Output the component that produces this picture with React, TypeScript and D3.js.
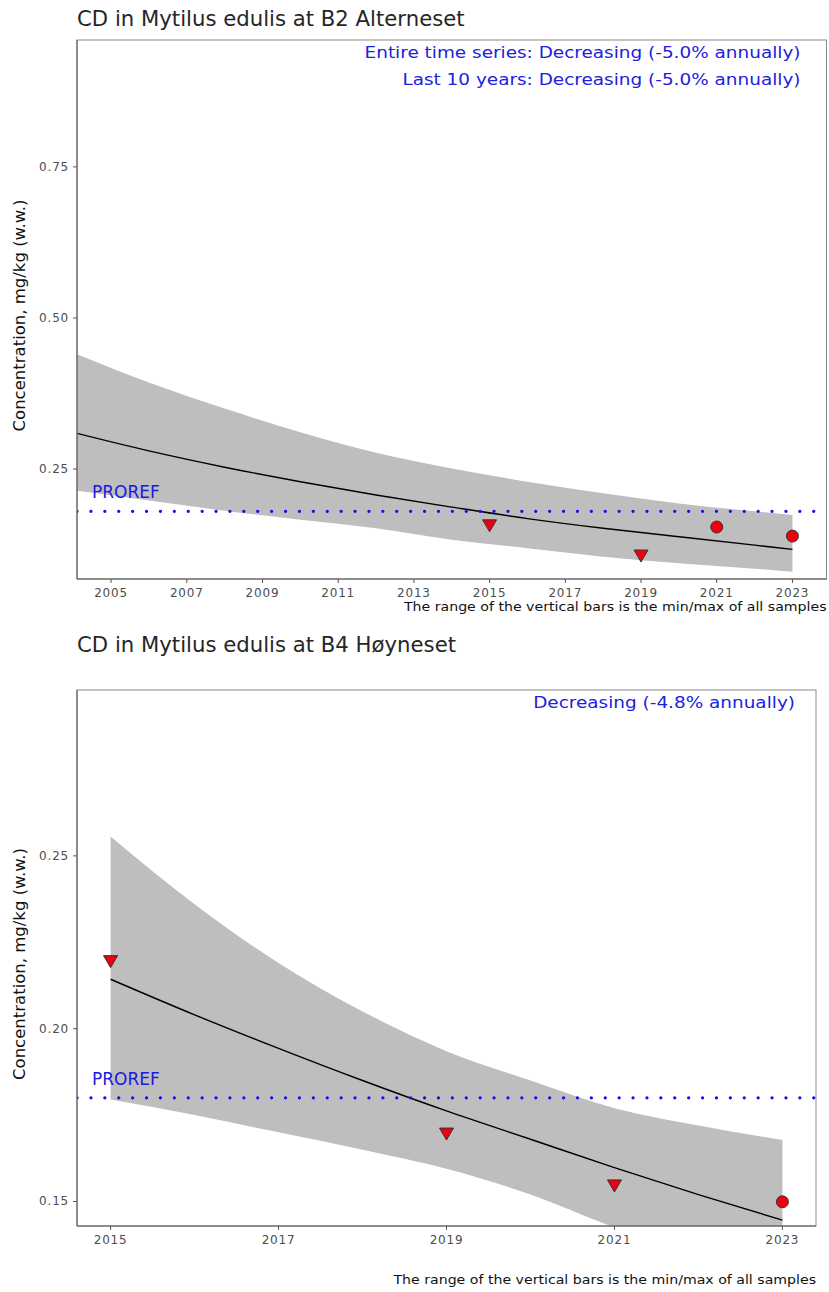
import * as d3 from "d3";

// ---- top panel: B2 Alterneset ----
const topYears = [2015, 2019, 2021, 2023];
const topValues = [0.156, 0.106, 0.154, 0.139];
const topShapes = ["triangle", "triangle", "circle", "circle"];
const topFitYears = [2004.1, 2006, 2008, 2010, 2012, 2014, 2016, 2018, 2020, 2022, 2023];
const topFit = [0.309, 0.28, 0.253, 0.229, 0.207, 0.187, 0.168, 0.152, 0.138, 0.124, 0.117];
const topUpper = [0.44, 0.393, 0.35, 0.311, 0.277, 0.251, 0.229, 0.21, 0.193, 0.18, 0.174];
const topLower = [0.214, 0.198, 0.181, 0.166, 0.152, 0.133, 0.119, 0.105, 0.094, 0.085, 0.08];
const topXTicks = [2005, 2007, 2009, 2011, 2013, 2015, 2017, 2019, 2021, 2023];
const topYTicks = [0.25, 0.5, 0.75];
const topNotes = [
  "Entire time series: Decreasing (-5.0% annually)",
  "Last 10 years: Decreasing (-5.0% annually)",
];

// ---- bottom panel: B4 Høyneset ----
const botYears = [2015, 2019, 2021, 2023];
const botValues = [0.2194, 0.1695, 0.1545, 0.1499];
const botShapes = ["triangle", "triangle", "triangle", "circle"];
const botFitYears = [2015, 2016, 2017, 2018, 2019, 2020, 2021, 2022, 2023];
const botFit = [0.2143, 0.204, 0.1943, 0.185, 0.1762, 0.168, 0.1598, 0.152, 0.1446];
const botUpper = [0.2556, 0.236, 0.219, 0.205, 0.1935, 0.185, 0.177, 0.172, 0.1678];
const botLower = [0.1795, 0.175, 0.17, 0.165, 0.1595, 0.152, 0.1425, 0.135, 0.127];
const botXTicks = [2015, 2017, 2019, 2021, 2023];
const botYTicks = [0.15, 0.2, 0.25];
const botNotes = ["Decreasing (-4.8% annually)"];

const proref = 0.18;
const caption = "The range of the vertical bars is the min/max of all samples";
const yLabel = "Concentration, mg/kg (w.w.)";

const FONT = "DejaVu Sans, sans-serif";

// text stretched horizontally (the source image is a bit wider than tall)
function SText(props: {
  x: number;
  y: number;
  sx: number;
  size: number;
  fill: string;
  anchor?: string;
  children: string;
}) {
  return (
    <text
      transform={`translate(${props.x},${props.y}) scale(${props.sx},1)`}
      fontSize={props.size}
      fill={props.fill}
      textAnchor={props.anchor ?? "start"}
      fontFamily={FONT}
    >
      {props.children}
    </text>
  );
}

type PanelProps = {
  id: string;
  title: string;
  titleY: number;
  captionY: number;
  top: number;
  bottom: number;
  left: number;
  right: number;
  xDomain: [number, number];
  yDomain: [number, number];
  xTicks: number[];
  yTicks: number[];
  years: number[];
  values: number[];
  shapes: string[];
  fitYears: number[];
  fit: number[];
  upper: number[];
  lower: number[];
  notes: string[];
};

function Panel(p: PanelProps) {
  const x = d3.scaleLinear().domain(p.xDomain).range([p.left, p.right]);
  const y = d3.scaleLinear().domain(p.yDomain).range([p.bottom, p.top]);

  const band = d3
    .area<number>()
    .curve(d3.curveMonotoneX)
    .x((d) => x(p.fitYears[d]))
    .y0((d) => y(p.lower[d]))
    .y1((d) => y(p.upper[d]));
  const line = d3
    .line<number>()
    .curve(d3.curveMonotoneX)
    .x((d) => x(p.fitYears[d]))
    .y((d) => y(p.fit[d]));
  const idx = d3.range(p.fitYears.length);

  return (
    <g>
      <defs>
        <clipPath id={p.id}>
          <rect x={p.left} y={p.top} width={p.right - p.left} height={p.bottom - p.top} />
        </clipPath>
      </defs>
      <SText x={p.left} y={p.titleY} sx={1.035} size={20.5} fill="#262626">
        {p.title}
      </SText>

      <g clipPath={`url(#${p.id})`}>
        <path d={band(idx) ?? ""} fill="#bebebe" />
        <path d={line(idx) ?? ""} fill="none" stroke="#000" strokeWidth={1.4} />
        <line
          x1={p.left}
          x2={p.right}
          y1={y(proref)}
          y2={y(proref)}
          stroke="#1010ee"
          strokeWidth={3.2}
          strokeLinecap="round"
          strokeDasharray="0.1 13.8"
        />
        {p.years.map((yr, i) =>
          p.shapes[i] === "circle" ? (
            <circle key={yr} cx={x(yr)} cy={y(p.values[i])} r={6} fill="#ee0010" stroke="#333" strokeWidth={1} />
          ) : (
            <path
              key={yr}
              d={`M${x(yr) - 7},${y(p.values[i]) - 6}L${x(yr) + 7},${y(p.values[i]) - 6}L${x(yr)},${y(p.values[i]) + 6}Z`}
              fill="#ee0010"
              stroke="#333"
              strokeWidth={1}
            />
          )
        )}
      </g>

      <text x={p.left + 15} y={y(proref) - 13} fontSize={17} fill="#1a1ae0" fontFamily={FONT}>
        PROREF
      </text>

      {p.notes.map((n, i) => (
        <SText
          key={n}
          x={p.right - (p.right > 820 ? 26 : 21)}
          y={p.top + 18 + i * 27}
          sx={1.19}
          size={15.5}
          fill="#2020e0"
          anchor="end"
        >
          {n}
        </SText>
      ))}

      <rect
        x={p.left}
        y={p.top}
        width={p.right - p.left}
        height={p.bottom - p.top}
        fill="none"
        stroke="#8a8a8a"
        strokeWidth={1}
      />
      <line x1={p.left} x2={p.left} y1={p.top} y2={p.bottom} stroke="#555" />
      <line x1={p.left} x2={p.right} y1={p.bottom} y2={p.bottom} stroke="#555" />

      {p.yTicks.map((t) => (
        <g key={t}>
          <line x1={p.left - 4} x2={p.left} y1={y(t)} y2={y(t)} stroke="#555" />
          <text
            x={p.left - 8}
            y={y(t) + 4}
            fontSize={12}
            letterSpacing={0.8}
            fill="#4d4d4d"
            textAnchor="end"
            fontFamily={FONT}
          >
            {d3.format(".2f")(t)}
          </text>
        </g>
      ))}
      {p.xTicks.map((t) => (
        <g key={t}>
          <line x1={x(t)} x2={x(t)} y1={p.bottom} y2={p.bottom + 4} stroke="#555" />
          <text
            x={x(t)}
            y={p.bottom + 18}
            fontSize={12}
            letterSpacing={0.8}
            fill="#4d4d4d"
            textAnchor="middle"
            fontFamily={FONT}
          >
            {t}
          </text>
        </g>
      ))}

      <text
        transform={`translate(25,${(p.top + p.bottom) / 2 + 6}) rotate(-90)`}
        fontSize={16.5}
        fill="#111"
        textAnchor="middle"
        fontFamily={FONT}
      >
        {yLabel}
      </text>

      <SText x={p.right} y={p.captionY} sx={1.23} size={11.5} fill="#111" anchor="end">
        {caption}
      </SText>
    </g>
  );
}

export default function App() {
  return (
    <svg
      width={829}
      height={1292}
      style={{ position: "absolute", left: 0, top: 0, background: "#fff" }}
    >
      <rect width={829} height={1292} fill="#fff" />
      <Panel
        id="clipTop"
        title="CD in Mytilus edulis at B2 Alterneset"
        titleY={26}
        captionY={611}
        top={40}
        bottom={579}
        left={77}
        right={826.5}
        xDomain={[2004.1, 2023.9]}
        yDomain={[0.068, 0.96]}
        xTicks={topXTicks}
        yTicks={topYTicks}
        years={topYears}
        values={topValues}
        shapes={topShapes}
        fitYears={topFitYears}
        fit={topFit}
        upper={topUpper}
        lower={topLower}
        notes={topNotes}
      />
      <Panel
        id="clipBot"
        title="CD in Mytilus edulis at B4 Høyneset"
        titleY={652}
        captionY={1284}
        top={690}
        bottom={1226}
        left={77}
        right={816}
        xDomain={[2014.6, 2023.4]}
        yDomain={[0.1429, 0.298]}
        xTicks={botXTicks}
        yTicks={botYTicks}
        years={botYears}
        values={botValues}
        shapes={botShapes}
        fitYears={botFitYears}
        fit={botFit}
        upper={botUpper}
        lower={botLower}
        notes={botNotes}
      />
    </svg>
  );
}
